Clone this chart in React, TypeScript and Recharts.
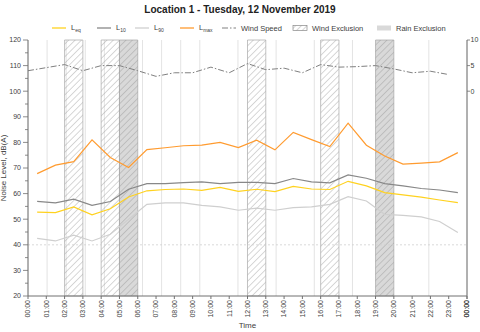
import React from "react";
import {
  CartesianGrid, Label, Line, LineChart, ReferenceArea, ReferenceLine, XAxis, YAxis,
} from "recharts";

// Hours on the x axis (0 = 00:00 ... 24 = next 00:00)
const X_TICKS = [0, 1, 2, 3, 4, 5, 6, 7, 8, 9, 10, 11, 12, 13, 14, 15, 16, 17, 18, 19, 20, 21, 22, 23, 24];
const X_LABELS = [
  "00:00", "01:00", "02:00", "03:00", "04:00", "05:00", "06:00", "07:00", "08:00", "09:00",
  "10:00", "11:00", "12:00", "13:00", "14:00", "15:00", "16:00", "17:00", "18:00", "19:00",
  "20:00", "21:00", "22:00", "23:00", "00:00",
];

// Noise values are plotted at the middle of each hour
const NOISE_T = [
  0.5, 1.5, 2.5, 3.5, 4.5, 5.5, 6.5, 7.5, 8.5, 9.5, 10.5, 11.5,
  12.5, 13.5, 14.5, 15.5, 16.5, 17.5, 18.5, 19.5, 20.5, 21.5, 22.5, 23.5,
];
const LEQ = [52.8, 52.6, 54.8, 51.7, 54.1, 58.7, 61.1, 61.6, 61.8, 61.3, 62.4, 60.9,
  61.7, 60.8, 62.8, 61.8, 61.6, 64.8, 63.0, 60.4, 59.5, 58.6, 57.5, 56.5];
const L10 = [57.0, 56.4, 57.8, 55.4, 56.9, 61.7, 63.9, 63.9, 64.3, 64.6, 63.9, 64.4,
  64.4, 63.9, 65.9, 64.6, 64.2, 67.3, 66.0, 63.9, 63.0, 62.0, 61.4, 60.4];
const L90 = [42.5, 41.5, 43.8, 41.5, 44.1, 50.0, 55.8, 56.4, 56.4, 55.4, 54.8, 53.5,
  54.3, 53.5, 54.5, 54.8, 55.8, 58.8, 57.1, 51.9, 51.5, 50.9, 49.1, 44.8];
const LMAX = [67.8, 71.1, 72.5, 81.0, 74.1, 70.2, 77.2, 77.9, 78.7, 78.9, 80.0, 78.0,
  80.9, 77.1, 83.9, 81.1, 78.4, 87.5, 78.9, 74.7, 71.5, 71.9, 72.4, 76.0];

// Wind speed (m/s, right axis) at the start of each hour
const WIND_T = [0, 1, 2, 3, 4, 5, 6, 7, 8, 9, 10, 11, 12, 13, 14, 15, 16, 17, 18, 19, 20, 21, 22, 23];
const WIND = [4.0, 4.6, 5.2, 4.0, 5.0, 5.0, 4.0, 2.9, 3.6, 3.6, 4.7, 3.6,
  5.4, 4.2, 4.5, 3.6, 5.2, 4.7, 4.8, 5.0, 4.35, 3.6, 3.9, 3.25];

// Exclusion periods [start hour, end hour]
const WIND_EXCL = [[2, 3], [4, 5], [12, 13], [16, 17]];
const RAIN_EXCL = [[5, 6], [19, 20]];

const Y_TICKS = [20, 25, 30, 35, 40, 45, 50, 55, 60, 65, 70, 75, 80, 85, 90, 95, 100, 105, 110, 115, 120];
const Y_GRID = [30, 50, 60, 70, 80, 90, 100, 110, 120];
const Y2_TICKS = [0, 5, 10];

const noiseRows = NOISE_T.map((t, i) => ({ t, leq: LEQ[i], l10: L10[i], l90: L90[i], lmax: LMAX[i] }));
const windRows = WIND_T.map((t, i) => ({ t, wind: WIND[i] }));

const FONT = "'Liberation Sans', Arial, sans-serif";
const TXT = "#404040";
const AX = "#707070";
const C = { leq: "#ffd21f", l10: "#888888", l90: "#cfcfcf", lmax: "#ff9b2f", wind: "#808080" };
const WIND_DASH = "6 2 1.5 2";

function HourText({ label }: { label: string }) {
  return (
    <text transform="rotate(-90)" textAnchor="end" dy={2.4} fontSize={7} fill={TXT} fontFamily={FONT}>
      {label}
    </text>
  );
}

function XTick({ x, y, payload }: any) {
  return (
    <g transform={`translate(${x},${y + 1})`}>
      <HourText label={X_LABELS[X_TICKS.indexOf(Math.round(payload.value))]} />
    </g>
  );
}

// recharts drops the tick sitting on the far end of the axis, so draw that one here
function EndTick({ viewBox }: any) {
  const x = viewBox.x + viewBox.width;
  return (
    <g transform={`translate(${x},${viewBox.y})`}>
      <line x1={0} x2={0} y1={0} y2={3} stroke={AX} />
      <g transform="translate(0,4)">
        <HourText label={X_LABELS[X_LABELS.length - 1]} />
      </g>
    </g>
  );
}

// tickSize/tickMargin are 0, so x is the axis line itself
function YTick({ x, y, payload }: any) {
  const major = payload.value % 10 === 0;
  return (
    <g>
      <line x1={x - (major ? 5 : 3)} x2={x} y1={y} y2={y} stroke={AX} strokeWidth={0.8} />
      {major && (
        <text x={x - 7} y={y} dy={2.4} textAnchor="end" fontSize={7} fill={TXT} fontFamily={FONT}>
          {payload.value}
        </text>
      )}
    </g>
  );
}

function Y2Tick({ x, y, payload }: any) {
  return (
    <g>
      <line x1={x} x2={x + 3} y1={y} y2={y} stroke={AX} strokeWidth={0.8} />
      <text x={x + 3.5} y={y} dy={2.4} textAnchor="start" fontSize={7} fill={TXT} fontFamily={FONT}>
        {payload.value}
      </text>
    </g>
  );
}

function LegendItem({ left, mark, children }: { left: number; mark: React.ReactNode; children: React.ReactNode }) {
  return (
    <div style={{ position: "absolute", left, top: 23, height: 10, display: "flex", alignItems: "center", whiteSpace: "nowrap" }}>
      <svg width={16} height={10} style={{ marginRight: 4 }}>{mark}</svg>
      <span style={{ fontSize: 7.5, color: TXT, fontFamily: FONT }}>{children}</span>
    </div>
  );
}

const sub = (s: string) => (
  <span>L<sub style={{ fontSize: 5, verticalAlign: "-1.5px" }}>{s}</sub></span>
);

export default function App() {
  return (
    <div style={{ position: "absolute", left: 0, top: 0, width: 480, height: 332, background: "#fff" }}>
      <div style={{ position: "absolute", top: 4, width: 480, textAlign: "center", fontFamily: FONT, fontWeight: "bold", fontSize: 10, color: "#222" }}>
        Location 1 - Tuesday, 12 November 2019
      </div>
      <LegendItem left={51} mark={<line x1={1} x2={15} y1={5} y2={5} stroke={C.leq} strokeWidth={1.3} />}>{sub("eq")}</LegendItem>
      <LegendItem left={96} mark={<line x1={1} x2={15} y1={5} y2={5} stroke={C.l10} strokeWidth={1.3} />}>{sub("10")}</LegendItem>
      <LegendItem left={134} mark={<line x1={1} x2={15} y1={5} y2={5} stroke={C.l90} strokeWidth={1.3} />}>{sub("90")}</LegendItem>
      <LegendItem left={179} mark={<line x1={1} x2={15} y1={5} y2={5} stroke={C.lmax} strokeWidth={1.3} />}>{sub("max")}</LegendItem>
      <LegendItem left={221} mark={<line x1={1} x2={15} y1={5} y2={5} stroke={C.wind} strokeWidth={1} strokeDasharray={WIND_DASH} />}>Wind Speed</LegendItem>
      <LegendItem left={292} mark={
        <g>
          <defs>
            <pattern id="lgHatch" width="4" height="4" patternUnits="userSpaceOnUse" patternTransform="rotate(45)">
              <line x1="0" y1="0" x2="0" y2="4" stroke="#888" strokeWidth="0.7" />
            </pattern>
          </defs>
          <rect x={1} y={2.5} width={14} height={5} fill="url(#lgHatch)" stroke="#888" strokeWidth={0.7} />
        </g>
      }>Wind Exclusion</LegendItem>
      <LegendItem left={376} mark={<rect x={1} y={2.5} width={14} height={5} fill="#d9d9d9" />}>Rain Exclusion</LegendItem>

      <LineChart width={480} height={332} data={noiseRows} margin={{ top: 40, right: 0, bottom: 0, left: 0 }}>
        <defs>
          <pattern id="hatch" width="4.5" height="4.5" patternUnits="userSpaceOnUse" patternTransform="rotate(45)">
            <line x1="0" y1="0" x2="0" y2="4.5" stroke="#8c8c8c" strokeWidth="0.7" />
          </pattern>
        </defs>
        <CartesianGrid stroke="#dcdcdc" strokeWidth={0.8} horizontalValues={Y_GRID} verticalValues={X_TICKS} />
        <XAxis
          xAxisId="x" dataKey="t" type="number" domain={[0, 24]} ticks={X_TICKS} interval={0}
          tick={<XTick />} tickSize={3} tickMargin={0} height={36} stroke={AX} tickLine={{ stroke: AX }}
        >
          <Label value="Time" position="insideBottom" offset={4} style={{ fontSize: 8, fill: TXT, fontFamily: FONT }} />
          <Label content={<EndTick />} />
        </XAxis>
        <YAxis
          yAxisId="left" domain={[20, 120]} ticks={Y_TICKS} interval={0} width={28}
          tick={<YTick />} tickLine={false} tickSize={0} tickMargin={0} stroke={AX}
        >
          <Label
            content={({ viewBox }: any) => (
              <text
                x={viewBox.x + 6} y={viewBox.y + viewBox.height / 2} textAnchor="middle"
                transform={`rotate(-90, ${viewBox.x + 6}, ${viewBox.y + viewBox.height / 2})`}
                fontSize={8} fill={TXT} fontFamily={FONT}
              >
                Noise Level, dB(A)
              </text>
            )}
          />
        </YAxis>
        <YAxis
          yAxisId="right" orientation="right" domain={[-40, 10]} ticks={Y2_TICKS} interval={0}
          width={13} tick={<Y2Tick />} tickLine={false} tickSize={0} tickMargin={0} stroke={AX}
        />
        <ReferenceLine xAxisId="x" yAxisId="left" y={40} stroke="#cfcfcf" strokeWidth={0.8} strokeDasharray="2 2" />
        {RAIN_EXCL.map(([a, b]) => (
          <ReferenceArea key={`r${a}`} xAxisId="x" yAxisId="left" x1={a} x2={b} y1={20} y2={120}
            fill="#d9d9d9" fillOpacity={1} stroke="#a8a8a8" strokeWidth={0.7} />
        ))}
        {RAIN_EXCL.map(([a, b]) => (
          <ReferenceArea key={`rh${a}`} xAxisId="x" yAxisId="left" x1={a} x2={b} y1={20} y2={120}
            fill="url(#hatch)" fillOpacity={1} stroke="none" />
        ))}
        {WIND_EXCL.map(([a, b]) => (
          <ReferenceArea key={`w${a}`} xAxisId="x" yAxisId="left" x1={a} x2={b} y1={20} y2={120}
            fill="url(#hatch)" fillOpacity={1} stroke="#a8a8a8" strokeWidth={0.7} />
        ))}
        <Line xAxisId="x" yAxisId="right" data={windRows} dataKey="wind" stroke={C.wind} strokeWidth={1}
          strokeDasharray={WIND_DASH} dot={false} isAnimationActive={false} />
        <Line xAxisId="x" yAxisId="left" dataKey="l90" stroke={C.l90} strokeWidth={1.2} dot={false} isAnimationActive={false} />
        <Line xAxisId="x" yAxisId="left" dataKey="l10" stroke={C.l10} strokeWidth={1.2} dot={false} isAnimationActive={false} />
        <Line xAxisId="x" yAxisId="left" dataKey="leq" stroke={C.leq} strokeWidth={1.2} dot={false} isAnimationActive={false} />
        <Line xAxisId="x" yAxisId="left" dataKey="lmax" stroke={C.lmax} strokeWidth={1.2} dot={false} isAnimationActive={false} />
      </LineChart>
    </div>
  );
}
